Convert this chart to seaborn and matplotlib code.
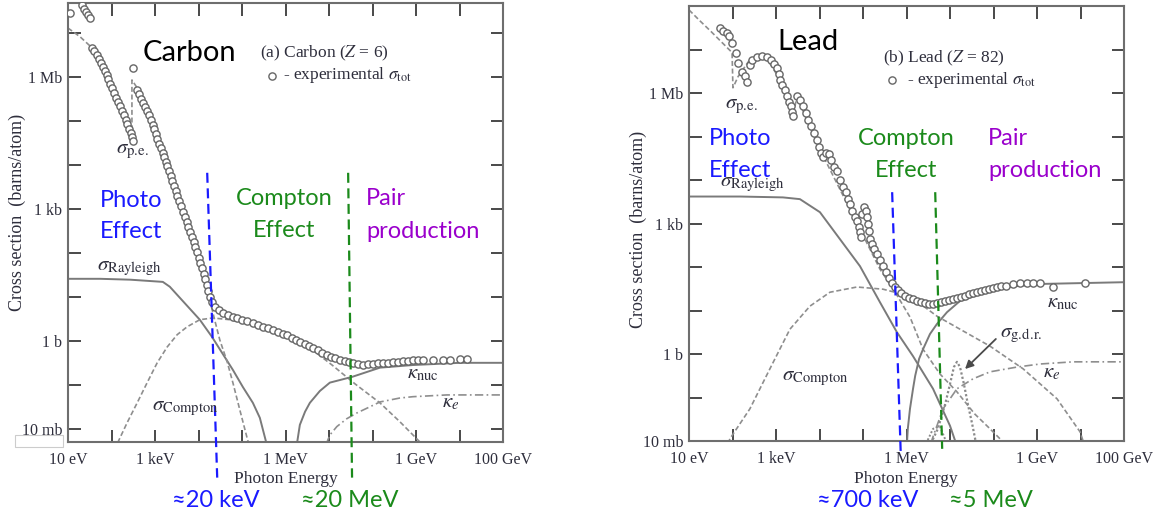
import numpy as np
import matplotlib
matplotlib.use("Agg")
import matplotlib.pyplot as plt
from matplotlib.lines import Line2D
from matplotlib.patches import Rectangle
from matplotlib.ticker import NullLocator
import seaborn as sns

W, H = 1160, 515

# All values read off the picture as decades:
# log10(photon energy / eV) and log10(cross section / barn)

# ---- (a) Carbon ----
carbon_tot_logE = [1.05, 1.32, 1.37, 1.41, 1.46, 1.51,
                   1.55, 1.60, 1.67, 1.71, 1.76, 1.80, 1.85, 1.90, 1.92, 1.97, 2.01, 2.06, 2.10, 2.15,
                   2.20, 2.24, 2.29, 2.33, 2.36, 2.40, 2.45, 2.47, 2.49,
                   2.49,
                   2.59, 2.63, 2.68, 2.72, 2.77, 2.82, 2.86, 2.91, 2.95, 2.98,
                   3.02, 3.05, 3.09, 3.14, 3.18, 3.21, 3.25, 3.28, 3.32, 3.37,
                   3.39, 3.44, 3.48, 3.51, 3.55, 3.60, 3.64, 3.69, 3.74, 3.76,
                   3.80, 3.85, 3.90, 3.92, 3.97, 4.01, 4.03, 4.08, 4.13, 4.15,
                   4.20, 4.22, 4.26, 4.31, 4.38, 4.47, 4.56, 4.68, 4.79, 4.89,
                   5.00, 5.11, 5.25, 5.37, 5.48, 5.60, 5.71, 5.83, 5.94, 6.03,
                   6.15, 6.24, 6.33, 6.45, 6.54, 6.63, 6.75, 6.84, 6.95, 7.05,
                   7.14, 7.25, 7.37, 7.46, 7.55, 7.67, 7.78, 7.90, 8.01, 8.13,
                   8.24, 8.36, 8.47, 8.59, 8.70, 8.82, 8.93, 9.05, 9.16, 9.39,
                   9.62, 9.78, 10.01, 10.17]
carbon_tot_logS = [7.45, 7.64, 7.55, 7.48, 7.41, 7.34,
                   6.66, 6.59, 6.50, 6.41, 6.32, 6.23, 6.14, 6.05, 5.95, 5.84, 5.75, 5.64, 5.52, 5.43,
                   5.34, 5.23, 5.14, 5.02, 4.93, 4.82, 4.73, 4.64, 4.55,
                   6.20,
                   5.70, 5.61, 5.50, 5.41, 5.32, 5.23, 5.14, 5.02, 4.91, 4.82,
                   4.70, 4.59, 4.48, 4.39, 4.27, 4.18, 4.07, 3.98, 3.86, 3.75,
                   3.64, 3.52, 3.41, 3.30, 3.18, 3.07, 2.93, 2.82, 2.70, 2.59,
                   2.48, 2.36, 2.25, 2.14, 2.02, 1.89, 1.77, 1.66, 1.52, 1.41,
                   1.27, 1.14, 1.00, 0.89, 0.77, 0.70, 0.64, 0.59, 0.55, 0.52,
                   0.48, 0.45, 0.41, 0.36, 0.32, 0.30, 0.25, 0.20, 0.16, 0.14,
                   0.07, 0.02, -0.02, -0.07, -0.11, -0.16, -0.20, -0.27, -0.32, -0.36,
                   -0.39, -0.43, -0.45, -0.48, -0.50, -0.52, -0.55, -0.52, -0.52, -0.50,
                   -0.50, -0.50, -0.48, -0.48, -0.45, -0.45, -0.43, -0.43, -0.43, -0.43,
                   -0.43, -0.43, -0.41, -0.41]

carbon_pe_logE = [1.00, 1.28, 1.51, 1.74, 1.97, 2.20, 2.43, 2.47, 2.47, 2.59, 2.89, 3.23,
                  3.57, 3.92, 4.15, 4.26, 4.36, 4.49, 4.66, 4.79, 4.95, 5.11, 5.16]
carbon_pe_logS = [7.11, 6.91, 6.70, 6.39, 5.89, 5.34, 4.77, 4.61, 5.93, 5.75, 5.07, 4.11,
                  3.14, 2.16, 1.39, 0.93, 0.52, 0.02, -0.48, -0.95, -1.57, -2.18, -2.36]
carbon_ray_logE = [1.00, 1.74, 2.43, 3.18, 3.34, 3.57, 3.80, 4.03, 4.31, 4.54, 4.79, 5.02, 5.25, 5.41, 5.57]
carbon_ray_logS = [1.41, 1.41, 1.39, 1.34, 1.23, 0.98, 0.73, 0.48, 0.09, -0.27, -0.66, -1.05, -1.41, -1.75, -2.36]
carbon_com_logE = [2.08, 2.15, 2.36, 2.59, 2.82, 3.05, 3.28, 3.51, 3.74, 4.03, 4.33,
                   4.72, 5.18, 5.64, 6.10, 6.56, 7.07, 7.60, 8.17, 8.63, 9.09, 9.15]
carbon_com_logS = [-2.48, -2.30, -1.86, -1.41, -0.95, -0.50, -0.14, 0.14, 0.32, 0.48, 0.52,
                   0.48, 0.39, 0.25, 0.07, -0.16, -0.55, -0.98, -1.41, -1.84, -2.30, -2.40]
carbon_nuc_logE = [6.26, 6.33, 6.45, 6.56, 6.79, 7.02, 7.53, 8.17, 8.93, 10.01, 11.00]
carbon_nuc_logS = [-2.36, -1.91, -1.61, -1.41, -1.14, -0.95, -0.82, -0.61, -0.55, -0.50, -0.50]
carbon_ke_logE = [6.93, 7.02, 7.18, 7.41, 7.64, 7.94, 8.17, 8.63, 8.93, 9.71, 11.00]
carbon_ke_logS = [-2.36, -2.14, -1.95, -1.77, -1.64, -1.50, -1.39, -1.30, -1.27, -1.23, -1.23]

# hand-drawn region borders (≈20 keV, ≈20 MeV)
carbon_blue_logE, carbon_blue_logS = [4.20, 4.43], [3.82, -3.11]
carbon_green_logE, carbon_green_logS = [7.44, 7.53], [3.82, -3.11]

# ---- (b) Lead ----
lead_tot_logE = [1.71, 1.78, 1.87, 1.92, 1.99, 2.08, 2.13, 2.22, 2.29, 2.33,
                 2.40, 2.45, 2.56, 2.68, 2.79, 2.89, 2.95, 3.02, 3.07, 3.09,
                 3.14, 3.21, 3.25, 3.30, 3.34, 3.37, 3.39,
                 3.48, 3.55, 3.62, 3.69, 3.74, 3.80, 3.87, 3.94, 3.99, 4.03,
                 4.08, 4.15, 4.22, 4.26, 4.33, 4.40, 4.47, 4.54, 4.61, 4.66,
                 4.70, 4.75, 4.82, 4.86, 4.91, 4.93, 4.95,
                 4.98, 5.02, 5.07, 5.09, 5.11, 5.14, 5.16, 5.21, 5.25, 5.32,
                 5.39, 5.46, 5.53, 5.60, 5.67, 5.74, 5.80, 5.87, 5.97, 6.06,
                 6.15, 6.24, 6.33, 6.43, 6.52, 6.61, 6.70, 6.79, 6.89, 6.98,
                 7.07, 7.16, 7.25, 7.34, 7.44, 7.53, 7.62, 7.71, 7.80, 7.90,
                 7.99, 8.08, 8.17, 8.29, 8.45, 8.61, 8.77, 8.91, 9.07, 9.37, 10.10]
lead_tot_logS = [7.50, 7.43, 7.39, 7.32, 7.16, 6.93, 6.70, 6.49, 6.38, 6.26,
                 6.65, 6.77, 6.83, 6.86, 6.83, 6.77, 6.67, 6.58, 6.44, 6.31,
                 6.19, 6.08, 5.92, 5.80, 5.69, 5.57, 5.46,
                 5.92, 5.85, 5.69, 5.55, 5.39, 5.23, 5.09, 4.93, 4.77, 4.63,
                 4.52, 4.63, 4.59, 4.47, 4.31, 4.20, 4.01, 3.85, 3.72, 3.56,
                 3.44, 3.28, 3.14, 3.05, 2.91, 2.80, 2.68,
                 3.21, 3.37, 3.28, 3.14, 2.98, 2.82, 2.64, 2.52, 2.41, 2.29,
                 2.16, 2.02, 1.88, 1.74, 1.63, 1.54, 1.47, 1.40, 1.33, 1.28,
                 1.26, 1.22, 1.19, 1.17, 1.15, 1.15, 1.17, 1.19, 1.22, 1.24,
                 1.26, 1.28, 1.31, 1.33, 1.38, 1.40, 1.42, 1.44, 1.47, 1.49,
                 1.51, 1.54, 1.56, 1.56, 1.61, 1.63, 1.63, 1.63, 1.63, 1.54, 1.63]

lead_pe_logE = [1.00, 1.25, 1.51, 1.76, 1.99, 2.01, 2.13, 2.40, 2.75, 3.09, 3.39, 3.48,
                4.01, 4.93, 5.39, 5.74, 6.08, 6.38, 6.77, 7.16, 7.57, 7.92, 8.15, 8.24]
lead_pe_logS = [7.91, 7.66, 7.41, 7.16, 6.93, 6.12, 6.38, 6.77, 6.86, 6.31, 5.46, 5.92,
                4.70, 2.87, 1.95, 1.42, 0.85, 0.11, -0.46, -0.87, -1.38, -1.72, -1.95, -2.06]
lead_ray_logE = [1.00, 2.17, 3.16, 3.55, 4.01, 4.47, 4.93, 5.39, 5.78, 6.15, 6.61, 7.00, 7.14]
lead_ray_logS = [3.62, 3.62, 3.60, 3.56, 3.26, 2.64, 2.02, 1.19, 0.50, -0.05, -0.80, -1.65, -2.06]
lead_com_logE = [1.90, 1.94, 2.40, 2.86, 3.32, 3.78, 4.24, 4.86, 5.46, 6.08, 6.70, 7.23,
                 7.92, 8.68, 9.46, 9.99, 10.08]
lead_com_logS = [-2.06, -1.95, -1.26, -0.34, 0.57, 1.10, 1.42, 1.54, 1.49, 1.33, 0.87, 0.57,
                 0.18, -0.34, -1.03, -1.79, -2.06]
lead_nuc_logE = [6.01, 6.03, 6.08, 6.15, 6.20, 6.29, 6.38, 6.54, 6.70, 6.93, 7.23, 7.62, 8.31, 9.07, 10.98]
lead_nuc_logS = [-2.06, -1.72, -1.26, -0.80, -0.50, -0.11, 0.11, 0.46, 0.69, 0.96, 1.22, 1.35, 1.54, 1.61, 1.65]
lead_ke_logE = [6.56, 6.61, 6.84, 7.16, 7.53, 7.92, 8.54, 9.07, 9.83, 10.98]
lead_ke_logS = [-2.06, -1.90, -1.26, -0.80, -0.57, -0.41, -0.30, -0.23, -0.18, -0.18]
lead_gdr_logE = [6.56, 6.72, 6.89, 7.00, 7.09, 7.16, 7.23, 7.32, 7.41, 7.51, 7.60]
lead_gdr_logS = [-2.06, -1.72, -1.15, -0.69, -0.30, -0.18, -0.30, -0.69, -1.15, -1.61, -2.06]
lead_gdr2_logE = [6.45, 6.61, 6.77, 6.93]
lead_gdr2_logS = [-2.06, -1.72, -1.67, -2.06]
lead_arrow_logE = [8.10, 7.30]      # tail, head
lead_arrow_logS = [0.39, -0.39]

# hand-drawn region borders (≈700 keV, ≈5 MeV)
lead_blue_logE, lead_blue_logS = [5.67, 5.87], [3.72, -2.36]
lead_green_logE, lead_green_logS = [6.66, 6.82], [3.72, -2.18]

# ---- axes labels ----
ENERGY_DECADES = list(range(1, 12))
ENERGY_LABELS = ["10 eV", "", "1 keV", "", "", "1 MeV", "", "", "1 GeV", "", "100 GeV"]
SIGMA_DECADES = list(range(-2, 8))
SIGMA_LABELS = ["10 mb", "", "1 b", "", "", "1 kb", "", "", "1 Mb", ""]

INK = "#2e2e3c"
SOLID_GRAY = "#7a7a7a"
DASH_GRAY = "#8e8e8e"
BLUE = "#1a1aff"
GREEN = "#1b8a1b"
PURPLE = "#9a00cc"
SANS = ["Lato", "DejaVu Sans"]

sns.set_style("ticks")
plt.rcParams["font.family"] = ["Liberation Serif", "DejaVu Serif"]
plt.rcParams["mathtext.fontset"] = "stix"

fig = plt.figure(figsize=(W / 100, H / 100), dpi=100)
ax_c = fig.add_axes([68 / W, 1 - 442 / H, 435 / W, 439 / H])
ax_p = fig.add_axes([689 / W, 1 - 441 / H, 435 / W, 435 / H])


def pw(v):
    return np.power(10.0, np.asarray(v, dtype=float))


def curve(ax, le, ls, style, color=DASH_GRAY, lw=1.2, **kw):
    sns.lineplot(x=pw(le), y=pw(ls), ax=ax, sort=False, estimator=None,
                 color=color, linewidth=lw, linestyle=style, legend=False, **kw)


def points(ax, le, ls):
    sns.scatterplot(x=pw(le), y=pw(ls), ax=ax, s=27, color="white",
                    edgecolor="#666666", linewidth=1.0, zorder=3, legend=False)


def style_axes(ax, ylim):
    ax.set_xscale("log")
    ax.set_yscale("log")
    ax.set_xlim(1e1, 1e11)
    ax.set_ylim(pw(ylim[0]), pw(ylim[1]))
    ax.set_xticks(pw(ENERGY_DECADES), labels=ENERGY_LABELS)
    ax.set_yticks(pw(SIGMA_DECADES), labels=SIGMA_LABELS)
    ax.xaxis.set_minor_locator(NullLocator())
    ax.yaxis.set_minor_locator(NullLocator())
    ax.tick_params(which="major", direction="in", top=True, right=True, length=9,
                   width=1.3, color="#3a3a3a", labelsize=11.5, labelcolor=INK)
    ax.tick_params(axis="x", pad=7)
    ax.tick_params(axis="y", pad=4)
    ax.set_xlabel("")
    ax.set_ylabel("")
    for sp in ax.spines.values():
        sp.set_color("#6e6e6e")
        sp.set_linewidth(1.5)


def put(x, y, s, **kw):
    kw.setdefault("color", INK)
    kw.setdefault("va", "baseline")
    fig.text(x / W, 1 - y / H, s, **kw)


def legend_dot(x, y):
    fig.add_artist(Line2D([x / W], [1 - y / H], marker="o", markersize=5.2, mfc="white",
                          mec="#666666", mew=1.0, linestyle="none", transform=fig.transFigure))


DASH = (0, (3, 1.6))
DASHDOT = (0, (5, 2, 1, 2))
DOTTED = (0, (1, 1))
MARK = (0, (4.5, 2.5))

# ---- carbon panel ----
curve(ax_c, carbon_ray_logE, carbon_ray_logS, "-", color=SOLID_GRAY, lw=1.4)
curve(ax_c, carbon_com_logE, carbon_com_logS, DASH)
curve(ax_c, carbon_pe_logE, carbon_pe_logS, DASH)
curve(ax_c, carbon_nuc_logE, carbon_nuc_logS, "-", color=SOLID_GRAY, lw=1.4)
curve(ax_c, carbon_ke_logE, carbon_ke_logS, DASHDOT)
points(ax_c, carbon_tot_logE, carbon_tot_logS)
style_axes(ax_c, (-2.30, 7.68))
curve(ax_c, carbon_blue_logE, carbon_blue_logS, MARK, color=BLUE, lw=1.6, clip_on=False, zorder=5)
curve(ax_c, carbon_green_logE, carbon_green_logS, MARK, color=GREEN, lw=1.6, clip_on=False, zorder=5)

# ---- lead panel ----
curve(ax_p, lead_ray_logE, lead_ray_logS, "-", color=SOLID_GRAY, lw=1.4)
curve(ax_p, lead_com_logE, lead_com_logS, DASH)
curve(ax_p, lead_pe_logE, lead_pe_logS, DASH)
curve(ax_p, lead_nuc_logE, lead_nuc_logS, "-", color=SOLID_GRAY, lw=1.4)
curve(ax_p, lead_ke_logE, lead_ke_logS, DASHDOT)
curve(ax_p, lead_gdr_logE, lead_gdr_logS, DOTTED, color="#8a8a8a", lw=1.6)
curve(ax_p, lead_gdr2_logE, lead_gdr2_logS, DOTTED, color="#8a8a8a", lw=1.4)
points(ax_p, lead_tot_logE, lead_tot_logS)
style_axes(ax_p, (-1.97, 8.00))
ax_p.annotate("", xy=(pw(lead_arrow_logE[1]), pw(lead_arrow_logS[1])),
              xytext=(pw(lead_arrow_logE[0]), pw(lead_arrow_logS[0])),
              arrowprops=dict(arrowstyle="-|>", color="#4a4a4a", lw=1.3, mutation_scale=12))
curve(ax_p, lead_blue_logE, lead_blue_logS, MARK, color=BLUE, lw=1.6, clip_on=False, zorder=5)
curve(ax_p, lead_green_logE, lead_green_logS, MARK, color=GREEN, lw=1.6, clip_on=False, zorder=5)

# ---- carbon texts ----
put(143, 61, "Carbon", fontsize=21, family=SANS, color="black")
put(260, 57, r"(a) Carbon ($Z$ = 6)", fontsize=12.5)
legend_dot(272, 76)
put(283, 79, r"- experimental $\sigma_{\mathrm{tot}}$", fontsize=12.5)
put(116, 153, r"$\sigma_{\mathrm{p.\!e.}}$", fontsize=15)
put(97, 270, r"$\sigma_{\mathrm{Rayleigh}}$", fontsize=15)
put(152, 410, r"$\sigma_{\mathrm{Compton}}$", fontsize=15)
put(407, 378, r"$\kappa_{\mathrm{nuc}}$", fontsize=15)
put(442, 407, r"$\kappa_{e}$", fontsize=15)
put(100, 207, "Photo", fontsize=17, family=SANS, color=BLUE)
put(100, 238, "Effect", fontsize=17, family=SANS, color=BLUE)
put(284, 205, "Compton", fontsize=17, family=SANS, color=GREEN, ha="center")
put(284, 237, "Effect", fontsize=17, family=SANS, color=GREEN, ha="center")
put(366, 205, "Pair", fontsize=17, family=SANS, color=PURPLE)
put(366, 238, "production", fontsize=17, family=SANS, color=PURPLE)
put(216, 507, "≈20 keV", fontsize=17, family=SANS, color=BLUE, ha="center")
put(350, 507, "≈20 MeV", fontsize=17, family=SANS, color=GREEN, ha="center")
put(286, 483, "Photon Energy", fontsize=12.5, ha="center")
put(17, 212, "Cross section  (barns/atom)", fontsize=13, rotation=90, ha="center", va="center")
fig.add_artist(Rectangle((15 / W, 1 - 447 / H), 48 / W, 12 / H, transform=fig.transFigure,
                         fill=False, edgecolor="#cccccc", linewidth=0.8))

# ---- lead texts ----
put(777, 50, "Lead", fontsize=21, family=SANS, color="black")
put(883, 62, r"(b) Lead ($Z$ = 82)", fontsize=12.5)
legend_dot(892, 80)
put(907, 84, r"- experimental $\sigma_{\mathrm{tot}}$", fontsize=12.5)
put(725, 108, r"$\sigma_{\mathrm{p.\!e.}}$", fontsize=15)
put(720, 186, r"$\sigma_{\mathrm{Rayleigh}}$", fontsize=15)
put(782, 380, r"$\sigma_{\mathrm{Compton}}$", fontsize=15)
put(1047, 307, r"$\kappa_{\mathrm{nuc}}$", fontsize=15)
put(1043, 377, r"$\kappa_{e}$", fontsize=15)
put(1000, 337, r"$\sigma_{\mathrm{g.\!d.\!r.}}$", fontsize=15)
put(709, 145, "Photo", fontsize=17, family=SANS, color=BLUE)
put(709, 177, "Effect", fontsize=17, family=SANS, color=BLUE)
put(906, 145, "Compton", fontsize=17, family=SANS, color=GREEN, ha="center")
put(906, 177, "Effect", fontsize=17, family=SANS, color=GREEN, ha="center")
put(988, 145, "Pair", fontsize=17, family=SANS, color=PURPLE)
put(988, 177, "production", fontsize=17, family=SANS, color=PURPLE)
put(868, 507, "≈700 keV", fontsize=17, family=SANS, color=BLUE, ha="center")
put(991, 507, "≈5 MeV", fontsize=17, family=SANS, color=GREEN, ha="center")
put(906, 483, "Photon Energy", fontsize=12.5, ha="center")
put(638, 229, "Cross section  (barns/atom)", fontsize=13, rotation=90, ha="center", va="center")

fig.savefig("out.png", dpi=100, facecolor="white")
